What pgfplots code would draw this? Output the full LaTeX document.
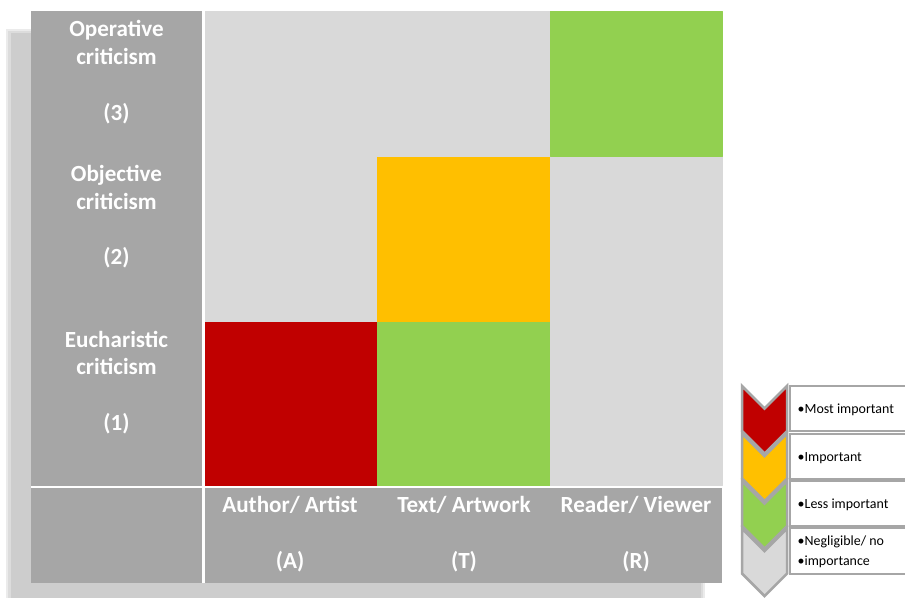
\documentclass[border=0pt]{standalone}
\usepackage{pgfplots}
\pgfplotsset{compat=1.18}
\usepackage{fontspec}
\setmainfont{Carlito}
\definecolor{cRed}{HTML}{C00000}
\definecolor{cYel}{HTML}{FFC000}
\definecolor{cGrn}{HTML}{92D050}
\definecolor{cBg}{HTML}{D9D9D9}
\definecolor{cLab}{HTML}{A6A6A6}
\definecolor{cSh1}{HTML}{EBEBEB}
\definecolor{cSh2}{HTML}{DCDCDC}
\definecolor{cSh3}{HTML}{CDCDCD}
\begin{document}
\begin{tikzpicture}[
  lab/.style={anchor=base, inner sep=0pt, text=white, font=\bfseries\fontsize{23.2}{27}\selectfont},
  leg/.style={anchor=base west, inner sep=0pt, text=black, font=\fontsize{14}{16}\selectfont},
]
\begin{axis}[
  width=905bp, height=598bp, scale only axis,
  xmin=0, xmax=905, ymin=0, ymax=598, y dir=reverse,
  hide axis, clip=false,
  colormap={imp}{color=(cBg) color=(cGrn) color=(cYel) color=(cRed)},
  point meta min=0, point meta max=3,
]
% background
\addplot[draw=none, fill=white] coordinates {(0,0) (905,0) (905,598) (0,598)} -- cycle;
% shadow (soft)
\addplot[draw=none, fill=cSh1] coordinates {(6,29) (705,29) (705,605) (6,605)} -- cycle;
\addplot[draw=none, fill=cSh2] coordinates {(8,31) (703,31) (703,605) (8,605)} -- cycle;
\addplot[draw=none, fill=cSh3] coordinates {(10.5,33.5) (700.5,33.5) (700.5,605) (10.5,605)} -- cycle;
% label frame
\addplot[draw=none, fill=cLab] coordinates {(31,11.5) (722.3,11.5) (722.3,582.7) (31,582.7)} -- cycle;
% importance matrix: 0 negligible, 1 less important, 2 important, 3 most important
\addplot[patch, patch type=rectangle, shader=flat corner, point meta=explicit] table[x=x, y=y, meta=l] {
x y l
205 321.5 3
377 321.5 3
377 485.5 3
205 485.5 3
377 321.5 1
550 321.5 1
550 485.5 1
377 485.5 1
550 321.5 0
722.3 321.5 0
722.3 485.5 0
550 485.5 0
205 156 0
377 156 0
377 321.5 0
205 321.5 0
377 156 2
550 156 2
550 321.5 2
377 321.5 2
550 156 0
722.3 156 0
722.3 321.5 0
550 321.5 0
205 11.5 0
377 11.5 0
377 156 0
205 156 0
377 11.5 0
550 11.5 0
550 156 0
377 156 0
550 11.5 1
722.3 11.5 1
722.3 156 1
550 156 1
};
% white separators
\addplot[draw=none, fill=white] coordinates {(202,11.5) (204.8,11.5) (204.8,582.7) (202,582.7)} -- cycle;
\addplot[draw=none, fill=white] coordinates {(31,485.5) (722.3,485.5) (722.3,488.2) (31,488.2)} -- cycle;
% row labels
\node[lab] at (axis cs:116.5,36.7) {Operative};
\node[lab] at (axis cs:116.5,64.4) {criticism};
\node[lab] at (axis cs:116.5,120) {(3)};
\node[lab] at (axis cs:116.5,181.5) {Objective};
\node[lab] at (axis cs:116.5,209.2) {criticism};
\node[lab] at (axis cs:116.5,264.8) {(2)};
\node[lab] at (axis cs:116.5,347) {Eucharistic};
\node[lab] at (axis cs:116.5,374.7) {criticism};
\node[lab] at (axis cs:116.5,430.3) {(1)};
% column labels
\node[lab] at (axis cs:290,512.7) {Author/ Artist};
\node[lab] at (axis cs:290,568.3) {(A)};
\node[lab] at (axis cs:464,512.7) {Text/ Artwork};
\node[lab] at (axis cs:464,568.3) {(T)};
\node[lab] at (axis cs:636,512.7) {Reader/ Viewer};
\node[lab] at (axis cs:636,568.3) {(R)};
% legend boxes
\addplot[fill=white, draw=cLab, line width=2.5bp] coordinates {(790,386) (910,386) (910,431) (790,431)} -- cycle;
\addplot[fill=white, draw=cLab, line width=2.5bp] coordinates {(790,434) (910,434) (910,479) (790,479)} -- cycle;
\addplot[fill=white, draw=cLab, line width=2.5bp] coordinates {(790,481) (910,481) (910,526) (790,526)} -- cycle;
\addplot[fill=white, draw=cLab, line width=2.5bp] coordinates {(790,528) (910,528) (910,574) (790,574)} -- cycle;
% legend chevrons (drawn bottom to top)
\addplot[fill=cBg, draw=cLab, line width=2.5bp, line join=miter] coordinates {(742,528.5) (764.5,551) (787,528.5) (787,573.5) (764.5,596) (742,573.5)} -- cycle;
\addplot[fill=cGrn, draw=cLab, line width=2.5bp, line join=miter] coordinates {(742,481) (764.5,503.5) (787,481) (787,526) (764.5,548.5) (742,526)} -- cycle;
\addplot[fill=cYel, draw=cLab, line width=2.5bp, line join=miter] coordinates {(742,433.5) (764.5,456) (787,433.5) (787,478.5) (764.5,501) (742,478.5)} -- cycle;
\addplot[fill=cRed, draw=cLab, line width=2.5bp, line join=miter] coordinates {(742,386) (764.5,408.5) (787,386) (787,431) (764.5,453.5) (742,431)} -- cycle;
% legend text
\node[leg] at (axis cs:797.5,413) {•Most important};
\node[leg] at (axis cs:797.5,461) {•Important};
\node[leg] at (axis cs:797.5,508) {•Less important};
\node[leg] at (axis cs:797.5,545) {•Negligible/ no};
\node[leg] at (axis cs:797.5,565.5) {•importance};
\end{axis}
\pgfresetboundingbox
\useasboundingbox (current axis.south west) rectangle (current axis.north east);
\end{tikzpicture}
\end{document}
